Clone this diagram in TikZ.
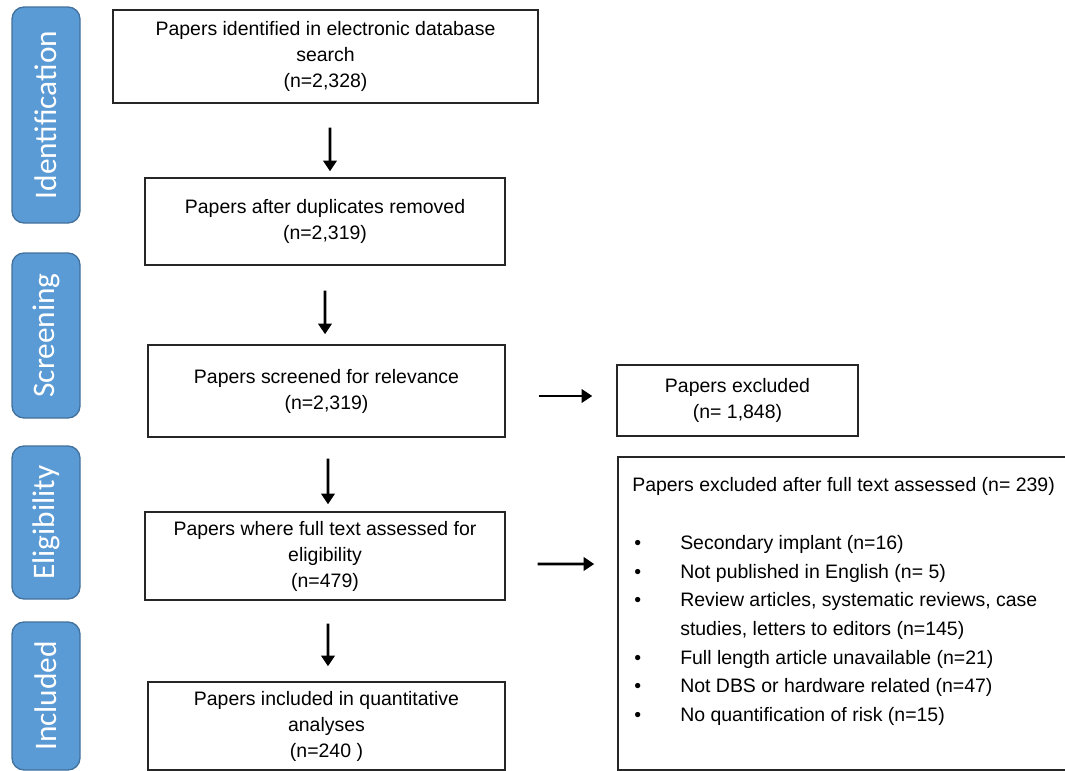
\documentclass[tikz,border=0pt]{standalone}
\usepackage{fontspec}
\setmainfont{Liberation Sans}
\newfontfamily\sidefont{Carlito}
\usetikzlibrary{arrows.meta}
\definecolor{sidefill}{HTML}{5B9BD5}
\definecolor{sideline}{HTML}{41719C}
\tikzset{
  side/.style={draw=sideline, line width=1pt, fill=sidefill, rounded corners=9pt,
    minimum width=51pt, inner sep=0pt},
  sidetext/.style={text=white, font=\sidefont\fontsize{23.5}{28}\selectfont, rotate=90, inner sep=0pt},
  box/.style={draw=black!85, line width=1.1pt, align=center, inner sep=0pt,
    font=\fontsize{14.6}{19.5}\selectfont},
  arr/.style={line width=2.2pt, -{Triangle[length=8pt,width=10pt]}}
}
\begin{document}
\begin{tikzpicture}[x=0.75pt,y=-0.75pt]
\useasboundingbox (0,0) rectangle (1065,771);
\clip (0,0) rectangle (1065,771);
% side labels
\node[side, minimum height=162pt] (sid) at (46,115) {};
\node[sidetext] (tid) at (46,115) {Identification};
\node[side, minimum height=123.75pt] (ssc) at (46,335.5) {};
\node[sidetext] (tsc) at (46,335.5) {Screening};
\node[side, minimum height=114.75pt] (sel) at (46,522.5) {};
\node[sidetext] (tel) at (46,522.5) {Eligibility};
\node[side, minimum height=111pt] (sin) at (46,696) {};
\node[sidetext] (tin) at (46,696) {Included};
% main boxes
\node[box, minimum width=318.75pt, minimum height=69.75pt] (b1) at (325.5,56.5)
  {Papers identified in electronic database\\search\\(n=2,328)};
\node[box, minimum width=270pt, minimum height=65.25pt] (b2) at (325,221.5)
  {Papers after duplicates removed\\(n=2,319)};
\node[box, minimum width=267.75pt, minimum height=69pt] (b3) at (326.5,391)
  {Papers screened for relevance\\(n=2,319)};
\node[box, minimum width=180.75pt, minimum height=53.25pt] (b4) at (737.5,400.5)
  {Papers excluded\\(n= 1,848)};
\node[box, minimum width=270pt, minimum height=66pt] (b5) at (325,556)
  {Papers where full text assessed for\\eligibility\\(n=479)};
\node[box, minimum width=339pt, minimum height=234.75pt] (b6) at (844,613.5) {};
\node[box, minimum width=267.75pt, minimum height=66pt] (b7) at (326.5,726)
  {Papers included in quantitative\\analyses\\(n=240 )};
% contents of the exclusion list
\node[anchor=north west, inner sep=0pt, align=left, font=\fontsize{14.6}{19.5}\selectfont] (t6) at (632,477.5)
  {Papers excluded after full text assessed (n= 239)};
\node[anchor=north west, inner sep=0pt, font=\fontsize{14.6}{21.5}\selectfont] (l6) at (634,529)
  {\begin{tabular}{@{}p{34.5pt}@{}l@{}}
   \textbullet & Secondary implant (n=16)\\
   \textbullet & Not published in English (n= 5)\\
   \textbullet & Review articles, systematic reviews, case\\
               & studies, letters to editors (n=145)\\
   \textbullet & Full length article unavailable (n=21)\\
   \textbullet & Not DBS or hardware related (n=47)\\
   \textbullet & No quantification of risk (n=15)
   \end{tabular}};
% arrows
\draw[arr, shorten <=18pt, shorten >=4.5pt] ([xshift=3.4pt]b1.south) -- ([xshift=3.75pt]b2.north);
\draw[arr, shorten <=18.75pt, shorten >=7.5pt] (b2.south) -- ([xshift=-1.1pt]b3.north);
\draw[arr, shorten <=15.75pt, shorten >=5.25pt] ([xshift=1.1pt]b3.south) -- ([xshift=2.25pt]b5.north);
\draw[arr, shorten <=17.25pt, shorten >=11.25pt] ([xshift=2.25pt]b5.south) -- ([xshift=1.1pt]b7.north);
\draw[arr, shorten <=24.75pt, shorten >=18pt] ([yshift=-3.75pt]b3.east) -- ([yshift=3.375pt]b4.west);
\draw[arr, shorten <=24pt, shorten >=17.25pt] ([yshift=-6pt]b5.east) -- ([yshift=37.1pt]b6.west);
\end{tikzpicture}
\end{document}
